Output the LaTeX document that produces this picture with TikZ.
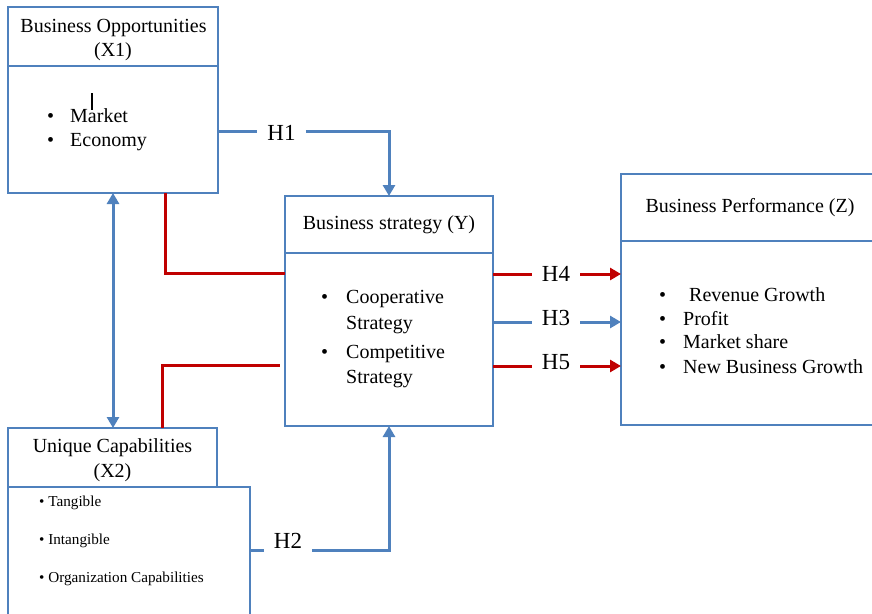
\documentclass[tikz,border=0pt]{standalone}
\usepackage{fontspec}
\setmainfont{Liberation Serif}
\usetikzlibrary{arrows.meta}
\definecolor{bblue}{RGB}{79,129,189}
\definecolor{rred}{RGB}{192,0,0}
\newcommand\myhead{\fontsize{20pt}{23pt}\selectfont}
\newcommand\mybody{\fontsize{20pt}{23pt}\selectfont}
\newcommand\mysmall{\fontsize{15.2pt}{18pt}\selectfont}
\newcommand\mylab{\fontsize{23pt}{26pt}\selectfont}
\tikzset{
  box/.style={draw=bblue, line width=2pt, rectangle, inner sep=0pt, outer sep=0pt, anchor=north west},
  txt/.style={inner sep=0pt, anchor=base west, font=\mybody},
  stxt/.style={inner sep=0pt, anchor=base west, font=\mysmall},
  htxt/.style={inner sep=0pt, anchor=base, font=\myhead},
  hlab/.style={inner xsep=10pt, inner ysep=0pt, anchor=base, font=\mylab},
  bline/.style={draw=bblue, line width=3pt},
  rline/.style={draw=rred, line width=3pt},
  tip/.style={-{Triangle[length=11pt,width=12pt]}},
  dtip/.style={{Triangle[length=11pt,width=12pt]}-{Triangle[length=11pt,width=12pt]}}
}
\begin{document}
\begin{tikzpicture}[x=1pt,y=-1pt]
\path[use as bounding box, clip] (0,0) rectangle (872,613);
\fill[white] (0,0) rectangle (872,613);

% boxes
\node[box, minimum width=210pt, minimum height=59pt] (x1h) at (8,7) {};
\node[box, minimum width=210pt, minimum height=127pt] (x1b) at (8,66) {};
\node[box, minimum width=208pt, minimum height=57pt] (yh) at (285,196) {};
\node[box, minimum width=208pt, minimum height=173pt] (yb) at (285,253) {};
\node[box, minimum width=252pt, minimum height=67pt] (zh) at (621,174) {};
\node[box, minimum width=252pt, minimum height=184pt] (zb) at (621,241) {};
\node[box, minimum width=209pt, minimum height=59pt] (x2h) at (8,428) {};
\node[box, minimum width=242pt, minimum height=135pt] (x2b) at (8,487) {};

% headings
\node[htxt] (x1t1) at (113.5,32) {Business Opportunities};
\node[htxt] (x1t2) at (113,56) {(X1)};
\node[htxt] (yt) at (389,229) {Business strategy (Y)};
\node[htxt] (zt) at (750,212) {Business Performance (Z)};
\node[htxt] (x2t1) at (112.5,452) {Unique Capabilities};
\node[htxt] (x2t2) at (112.5,477) {(X2)};

% X1 body
\node[txt] (x1d1) at (47,122) {\textbullet};
\node[txt] (x1d2) at (47,146) {\textbullet};
\node[txt] (x1i1) at (70,122) {Market};
\node[txt] (x1i2) at (70,146) {Economy};
\draw[black, line width=1.2pt] (92,93) -- (92,110);

% Y body
\node[txt] (yd1) at (321,303) {\textbullet};
\node[txt] (yd2) at (321,358) {\textbullet};
\node[txt] (yi1) at (346,303) {Cooperative};
\node[txt] (yi2) at (346,329) {Strategy};
\node[txt] (yi3) at (346,358) {Competitive};
\node[txt] (yi4) at (346,383) {Strategy};

% Z body
\node[txt] (zd1) at (659,301) {\textbullet};
\node[txt] (zd2) at (659,325) {\textbullet};
\node[txt] (zd3) at (659,348) {\textbullet};
\node[txt] (zd4) at (659,373) {\textbullet};
\node[txt] (zi1) at (689,301) {Revenue Growth};
\node[txt] (zi2) at (683,325) {Profit};
\node[txt] (zi3) at (683,348) {Market share};
\node[txt] (zi4) at (683,373) {New Business Growth};

% X2 body
\node[stxt] (x2i1) at (39,506) {\textbullet\ Tangible};
\node[stxt] (x2i2) at (39,544) {\textbullet\ Intangible};
\node[stxt] (x2i3) at (39,582) {\textbullet\ Organization Capabilities};

% labels
\node[hlab] (h1) at (281.5,140) {H1};
\node[hlab] (h2) at (288,548) {H2};
\node[hlab] (h4) at (556,281) {H4};
\node[hlab] (h3) at (556,325) {H3};
\node[hlab] (h5) at (556,369) {H5};

% line levels
\coordinate (l1) at (0,131);
\coordinate (l2) at (0,550);
\coordinate (l4) at (0,274);
\coordinate (l3) at (0,322);
\coordinate (l5) at (0,366);
\coordinate (dbl) at (113,0);
\coordinate (r1) at (165,273);
\coordinate (r2) at (162,365);
\coordinate (r2e) at (280,365);

% connectors
\draw[bline] (x1b.east |- l1) -- (h1.west |- l1);
\draw[bline, tip] (h1.east |- l1) -| (yh.north);
\draw[bline] (x2b.east |- l2) -- (h2.west |- l2);
\draw[bline, tip] (h2.east |- l2) -| (yb.south);
\draw[rline] (yb.east |- l4) -- (h4.west |- l4);
\draw[rline, tip] (h4.east |- l4) -- (zb.west |- l4);
\draw[bline] (yb.east |- l3) -- (h3.west |- l3);
\draw[bline, tip] (h3.east |- l3) -- (zb.west |- l3);
\draw[rline] (yb.east |- l5) -- (h5.west |- l5);
\draw[rline, tip] (h5.east |- l5) -- (zb.west |- l5);
\draw[bline, dtip] (x1b.south -| dbl) -- (x2h.north -| dbl);
\draw[rline] (x1b.south -| r1) |- (yb.west |- r1);
\draw[rline] (x2h.north -| r2) |- (r2e);
\end{tikzpicture}
\end{document}
